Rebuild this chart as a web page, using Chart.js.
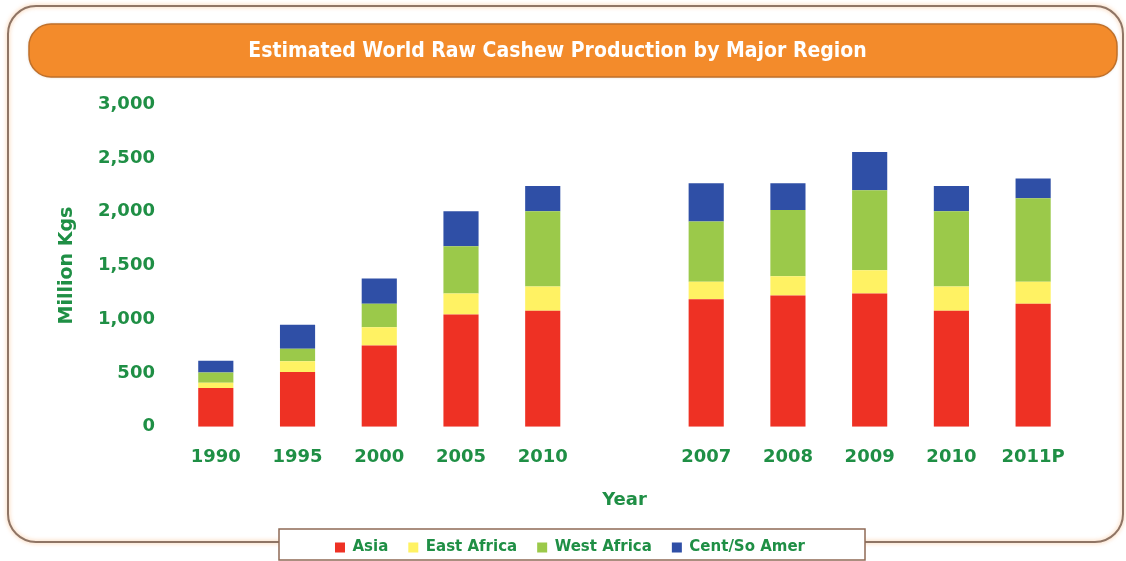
<!DOCTYPE html>
<html>
<head>
<meta charset="utf-8">
<script src="https://cdn.jsdelivr.net/npm/chart.js@4/dist/chart.umd.min.js"></script>
<style>
  html, body { margin: 0; padding: 0; background: #fff; }
  canvas { display: block; }
</style>
</head>
<body>
<canvas id="chart" width="1126" height="561"></canvas>
<script>
// years, with an empty slot between the two groups
const years = ['1990', '1995', '2000', '2005', '2010', '', '2007', '2008', '2009', '2010', '2011P'];

// million kgs
const asia = [360, 510, 755, 1045, 1080, null, 1185, 1220, 1240, 1080, 1145];
const eastAfrica = [50, 100, 170, 195, 225, null, 165, 180, 215, 225, 205];
const westAfrica = [95, 115, 220, 440, 700, null, 560, 615, 745, 700, 775];
const centSoAmer = [110, 225, 235, 325, 235, null, 355, 250, 355, 235, 185];

const yTicks = [0, 500, 1000, 1500, 2000, 2500, 3000];

const green = '#1f8f45';

function roundRect(ctx, x, y, w, h, r) {
    ctx.beginPath();
    ctx.moveTo(x + r, y);
    ctx.arcTo(x + w, y, x + w, y + h, r);
    ctx.arcTo(x + w, y + h, x, y + h, r);
    ctx.arcTo(x, y + h, x, y, r);
    ctx.arcTo(x, y, x + w, y, r);
    ctx.closePath();
}

// frame, orange title banner and legend box
const decor = {
    id: 'decor',
    beforeDraw(chart) {
        let ctx = chart.ctx;
        ctx.save();
        ctx.fillStyle = '#fff';
        ctx.fillRect(0, 0, chart.width, chart.height);

        // outer frame
        ctx.shadowColor = 'rgba(245,150,70,0.6)';
        ctx.shadowBlur = 4;
        roundRect(ctx, 8, 6, 1115, 536, 28);
        ctx.strokeStyle = '#8f7565';
        ctx.lineWidth = 2;
        ctx.stroke();

        // banner
        ctx.shadowColor = 'rgba(120,80,40,0.35)';
        ctx.shadowBlur = 3;
        roundRect(ctx, 29, 24, 1088, 53, 22);
        ctx.fillStyle = '#f38b2b';
        ctx.fill();
        ctx.shadowBlur = 0;
        ctx.strokeStyle = '#c0702a';
        ctx.lineWidth = 1.5;
        ctx.stroke();

        // legend box
        ctx.fillStyle = '#fff';
        ctx.fillRect(279, 529, 586, 31);
        ctx.strokeStyle = '#8f6a55';
        ctx.lineWidth = 1.5;
        ctx.strokeRect(279, 529, 586, 31);
        ctx.restore();
    },
    afterLayout(chart) {
        // put the legend inside its box
        let lg = chart.legend;
        let dx = 570 - (lg.left + lg.right) / 2;
        lg.left += dx;
        lg.right += dx;
        lg.top -= 10;
        lg.bottom = chart.height;
        lg.height = lg.bottom - lg.top;
    }
};

function makeSet(label, data, color) {
    return {
        label: label,
        data: data,
        backgroundColor: color,
        borderWidth: 0,
        categoryPercentage: 1,
        barPercentage: 0.43
    };
}

let ctx = document.getElementById('chart').getContext('2d');
let myChart = new Chart(ctx, {
    type: 'bar',
    data: {
        labels: years,
        datasets: [
            makeSet('Asia', asia, '#ee3124'),
            makeSet('East Africa', eastAfrica, '#fff263'),
            makeSet('West Africa', westAfrica, '#9bc94a'),
            makeSet('Cent/So Amer', centSoAmer, '#2f4fa6')
        ]
    },
    options: {
        responsive: false,
        animation: false,
        layout: {
            padding: { left: 41, right: 52, top: 0, bottom: 0 }
        },
        plugins: {
            title: {
                display: true,
                text: 'Estimated World Raw Cashew Production by Major Region',
                color: '#fff',
                font: { family: "'Liberation Sans Narrow', 'DejaVu Sans Condensed', sans-serif", size: 21, weight: 'bold' },
                padding: { top: 39, bottom: 40 }
            },
            legend: {
                position: 'bottom',
                maxHeight: 31,
                labels: {
                    boxWidth: 10,
                    boxHeight: 10,
                    padding: 20,
                    color: green,
                    font: { family: "'DejaVu Sans', sans-serif", size: 15, weight: 'bold' }
                }
            },
            tooltip: { enabled: false }
        },
        scales: {
            x: {
                stacked: true,
                grid: { display: false, drawTicks: false },
                border: { display: false },
                ticks: {
                    padding: 20,
                    color: green,
                    font: { family: "'DejaVu Sans', sans-serif", size: 18, weight: 'bold' }
                },
                title: {
                    display: true,
                    text: 'Year',
                    color: green,
                    font: { family: "'DejaVu Sans', sans-serif", size: 18, weight: 'bold' },
                    padding: { top: 1, bottom: 19 }
                }
            },
            y: {
                stacked: true,
                min: 0,
                max: 3000,
                grid: { display: false, drawTicks: false },
                border: { display: false },
                afterBuildTicks(axis) {
                    axis.ticks = yTicks.map(v => ({ value: v }));
                },
                ticks: {
                    padding: 20,
                    color: green,
                    font: { family: "'DejaVu Sans', sans-serif", size: 18, weight: 'bold' },
                    callback: v => v.toLocaleString('en-US')
                },
                title: {
                    display: true,
                    text: 'Million Kgs',
                    color: green,
                    font: { family: "'DejaVu Sans', sans-serif", size: 19, weight: 'bold', lineHeight: 1 },
                    padding: { top: 17, bottom: 1 }
                }
            }
        }
    },
    plugins: [decor]
});
</script>
</body>
</html>
